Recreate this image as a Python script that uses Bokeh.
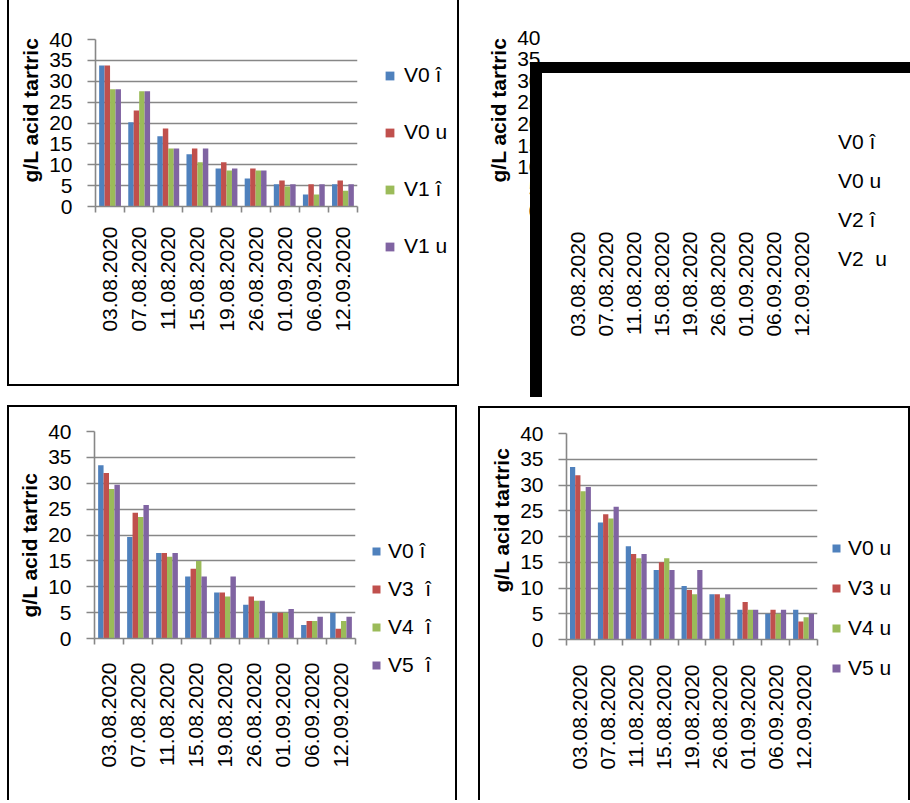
import math
from bokeh.plotting import figure
from bokeh.models import (Range1d, FixedTicker, LinearAxis, Legend, LegendItem,
                          Title, ColumnDataSource, Grid)
from bokeh.layouts import row, column
from bokeh.transform import dodge
from bokeh.embed import file_html
from bokeh.resources import INLINE

# ---------------- data ----------------
dates = ["03.08.2020", "07.08.2020", "11.08.2020", "15.08.2020", "19.08.2020",
         "26.08.2020", "01.09.2020", "06.09.2020", "12.09.2020"]
y_ticks = [0, 5, 10, 15, 20, 25, 30, 35, 40]
y_title = "g/L acid tartric"

# panel 1 (top left)
p1_labels = ["V0 î", "V0 u", "V1 î", "V1 u"]
p1_v0_i = [33.8, 20.2, 16.8, 12.5, 9.1, 6.7, 5.3, 2.9, 5.3]
p1_v0_u = [33.8, 23.0, 18.7, 13.9, 10.6, 9.1, 6.2, 5.3, 6.2]
p1_v1_i = [28.1, 27.6, 13.9, 10.6, 8.6, 8.6, 4.8, 2.9, 3.8]
p1_v1_u = [28.1, 27.6, 13.9, 13.9, 9.1, 8.6, 5.3, 5.3, 5.3]

# panel 2 (top right) - plot area is covered, no bars visible
p2_labels = ["V0 î", "V0 u", "V2 î", "V2  u"]

# panel 3 (bottom left)
p3_labels = ["V0 î", "V3  î", "V4  î", "V5  î"]
p3_v0_i = [33.5, 19.6, 16.5, 12.0, 8.9, 6.5, 5.0, 2.6, 5.0]
p3_v3_i = [32.0, 24.3, 16.5, 13.5, 8.9, 8.1, 5.0, 3.4, 1.9]
p3_v4_i = [28.9, 23.5, 15.8, 15.0, 8.1, 7.3, 5.0, 3.4, 3.4]
p3_v5_i = [29.7, 25.8, 16.5, 12.0, 12.0, 7.3, 5.7, 4.2, 4.2]

# panel 4 (bottom right)
p4_labels = ["V0 u", "V3 u", "V4 u", "V5 u"]
p4_v0_u = [33.5, 22.7, 18.1, 13.5, 10.4, 8.8, 5.8, 5.0, 5.8]
p4_v3_u = [31.9, 24.3, 16.6, 15.0, 9.6, 8.8, 7.3, 5.8, 3.5]
p4_v4_u = [28.8, 23.5, 15.8, 15.8, 8.8, 8.1, 5.8, 5.0, 4.3]
p4_v5_u = [29.6, 25.8, 16.6, 13.5, 13.5, 8.8, 5.8, 5.8, 5.0]

# ---------------- style ----------------
FONT = "Liberation Sans"
FS = "21px"
COLORS = ["#4F81BD", "#C0504D", "#9BBB59", "#8064A2"]
GRID = "#878787"
BAR_W = 0.1875
OFFSETS = [-0.28125, -0.09375, 0.09375, 0.28125]
H = 400


def bg_lines(rects):
    """CSS background with solid black bands (panel frames drawn behind the canvas)."""
    st = {"background-color": "white"}
    if rects:
        st.update({
            "background-image": ", ".join(["linear-gradient(#000, #000)"] * len(rects)),
            "background-position": ", ".join(f"{x}px {y}px" for x, y, w, h in rects),
            "background-size": ", ".join(f"{w}px {h}px" for x, y, w, h in rects),
            "background-repeat": "no-repeat"})
    return st


def no_align(p):
    if "frame_align" in p.properties():
        p.frame_align = False


def build_chart(width, frame, values, title_offset, date_standoff, rects,
                show_lines=True):
    l, r, t, b = frame
    n = len(dates)
    p = figure(width=width, height=H,
               x_range=Range1d(0, n), y_range=Range1d(0, 40),
               x_axis_type=None, y_axis_type=None,
               output_backend="svg", toolbar_location=None,
               min_border_left=l, min_border_right=width - r,
               min_border_top=t, min_border_bottom=H - b,
               background_fill_color=None, border_fill_color=None,
               styles=bg_lines(rects))
    p.outline_line_color = None
    no_align(p)

    if show_lines:
        p.add_layout(Grid(dimension=1, ticker=FixedTicker(ticks=y_ticks),
                          grid_line_color=GRID, grid_line_width=1.6))

    yax = LinearAxis(ticker=FixedTicker(ticks=y_ticks),
                     axis_line_color=GRID if show_lines else None, axis_line_width=1.6,
                     major_tick_out=8, major_tick_in=0,
                     major_tick_line_color=GRID if show_lines else None,
                     major_tick_line_width=1.6,
                     minor_tick_line_color=None,
                     major_label_standoff=15,
                     major_label_text_font=FONT, major_label_text_font_size=FS,
                     major_label_text_color="black")
    p.add_layout(yax, "left")
    p.add_layout(Title(text=y_title, align="left", offset=title_offset,
                       standoff=10, text_font=FONT, text_font_size=FS,
                       text_font_style="bold", text_color="black"), "left")

    centers = [i + 0.5 for i in range(n)]
    xax = LinearAxis(ticker=FixedTicker(ticks=centers, minor_ticks=list(range(n + 1))),
                     major_label_overrides={c: d for c, d in zip(centers, dates)},
                     major_label_orientation=math.pi / 2,
                     axis_line_color=GRID if show_lines else None, axis_line_width=1.6,
                     major_tick_line_color=None, major_tick_out=0, major_tick_in=0,
                     minor_tick_line_color=GRID if show_lines else None,
                     minor_tick_out=6, minor_tick_in=0, minor_tick_line_width=1.6,
                     major_label_standoff=date_standoff,
                     major_label_text_font=FONT, major_label_text_font_size=FS,
                     major_label_text_color="black")
    p.add_layout(xax, "below")

    if values is not None:
        data = {"pos": centers}
        for i, v in enumerate(values):
            data[f"s{i}"] = v
        src = ColumnDataSource(data=data)
        for i in range(len(values)):
            p.vbar(x=dodge("pos", OFFSETS[i]), top=f"s{i}", width=BAR_W, source=src,
                   fill_color=COLORS[i], line_color=None)
    return p


def build_legend(width, labels, left, top, spacing, glyph, standoff, rects,
                 show_swatch=True):
    p = figure(width=width, height=H, x_range=Range1d(0, 1), y_range=Range1d(0, 1),
               x_axis_type=None, y_axis_type=None, output_backend="svg",
               toolbar_location=None,
               min_border_left=left, min_border_top=top,
               min_border_right=0, min_border_bottom=0,
               background_fill_color=None, border_fill_color=None,
               styles=bg_lines(rects))
    p.outline_line_color = None
    no_align(p)
    items = []
    for i, lab in enumerate(labels):
        # swatch-only renderer (no drawable data): it just carries the series colour
        rr = p.vbar(x=[math.nan], top=[math.nan], width=0.1, fill_color=COLORS[i],
                    fill_alpha=1.0 if show_swatch else 0.0, line_color=None)
        items.append(LegendItem(label=lab, renderers=[rr]))
    leg = Legend(items=items, location="top_left", orientation="vertical",
                 border_line_color=None, background_fill_alpha=0,
                 glyph_width=glyph, glyph_height=glyph,
                 label_standoff=standoff, spacing=spacing,
                 padding=0, margin=0, label_height=24,
                 label_text_font=FONT, label_text_font_size=FS,
                 label_text_color="black")
    p.add_layout(leg)
    return p


# top-left panel: page x 0..478
p1 = build_chart(370, (95, 357, 39, 206), [p1_v0_i, p1_v0_u, p1_v1_i, p1_v1_u],
                 title_offset=24, date_standoff=14,
                 rects=[(7, 0, 2, 386), (7, 384, 363, 2)])
l1 = build_legend(108, p1_labels, 14, 63, 33, 11, 9,
                  rects=[(87, 0, 2, 386), (0, 384, 89, 2)])

# top-right panel: page x 478..910
p2 = build_chart(339, (85, 337, 37, 210), None,
                 title_offset=28, date_standoff=15,
                 rects=[(52, 62, 287, 11), (52, 62, 12, 335)], show_lines=False)
l2 = build_legend(93, p2_labels, 2, 130, 15, 11, 8,
                  rects=[(0, 62, 93, 11)], show_swatch=False)

# bottom-left panel
p3 = build_chart(362, (94, 355, 31, 238), [p3_v0_i, p3_v3_i, p3_v4_i, p3_v5_i],
                 title_offset=21, date_standoff=18,
                 rects=[(7, 5, 355, 2), (7, 5, 2, 395)])
l3 = build_legend(116, p3_labels, 9, 139, 14, 10, 7,
                  rects=[(0, 5, 95, 2), (93, 5, 2, 395)])

# bottom-right panel
p4 = build_chart(344, (88, 339, 33, 239), [p4_v0_u, p4_v3_u, p4_v4_u, p4_v5_u],
                 title_offset=47, date_standoff=19,
                 rects=[(0, 6, 344, 2), (0, 6, 2, 394)])
l4 = build_legend(88, p4_labels, 9, 136, 16, 10, 7,
                  rects=[(0, 6, 88, 2), (86, 6, 2, 394)])

layout = column(row(p1, l1, p2, l2), row(p3, l3, p4, l4))

with open("out.html", "w", encoding="utf-8") as f:
    f.write(file_html(layout, INLINE))
